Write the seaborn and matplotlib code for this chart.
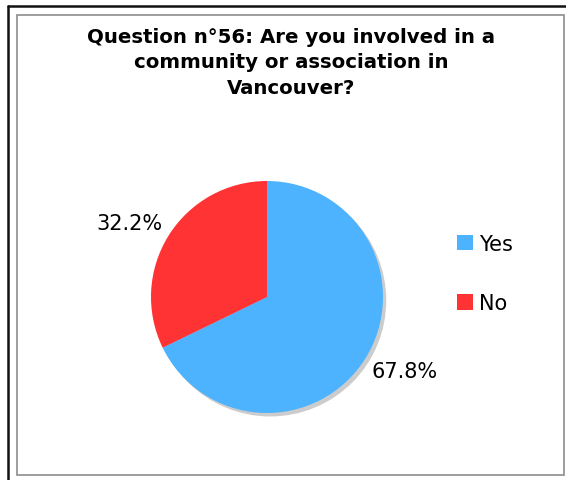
import matplotlib
matplotlib.use("Agg")
import numpy as np
import matplotlib.pyplot as plt
from matplotlib.patches import Rectangle, Patch, Circle
from matplotlib.lines import Line2D
import seaborn as sns

# Survey answers
categories = ["Yes", "No"]
shares = [67.8, 32.2]
colors = ["#4DB3FF", "#FF3333"]
title = "Question n°56: Are you involved in a\ncommunity or association in\nVancouver?"

sns.set_theme(style="white")
plt.rcParams["font.family"] = ["DejaVu Sans"]
plt.rcParams["text.color"] = "black"

W, H = 566, 481
fig = plt.figure(figsize=(W / 100, H / 100), dpi=100)
fig.patch.set_facecolor("white")


def px(x, y):
    return x / W, 1 - y / H


# Frame: dark outer edge (top and left) and a grey inner box
fig.add_artist(Line2D([px(8, 0)[0], 1.0], [px(0, 6.5)[1]] * 2, color="#111111", lw=1.8, transform=fig.transFigure))
fig.add_artist(Line2D([px(8, 0)[0]] * 2, [px(0, 6.5)[1], 0.0], color="#111111", lw=1.8, transform=fig.transFigure))
x0, y0 = px(16.5, 475.5)
x1, y1 = px(564, 15.5)
fig.add_artist(Rectangle((x0, y0), x1 - x0, y1 - y0, fill=False, ec="#8c8c8c", lw=1.2, transform=fig.transFigure))

fig.text(291 / W, 1 - 28 / H, title, ha="center", va="top", fontsize=14.2,
         fontweight="bold", linespacing=1.42, color="black")

# Pie area: centre at (267, 298) px, radius 116 px
cx, cy, r = 267, 298, 116
half = 150
ax = fig.add_axes([(cx - half) / W, (H - cy - half) / H, 2 * half / W, 2 * half / H])
lim = half / r
ax.set_aspect("equal")
ax.axis("off")

# soft grey drop shadow behind the pie
ax.add_patch(Circle((0.028, -0.03), 1.0, facecolor="#cccccc", edgecolor="none", zorder=0))

wedges, texts, autotexts = ax.pie(
    shares, colors=colors, startangle=90, counterclock=False,
    autopct="%.1f%%", pctdistance=1.35,
    textprops={"fontsize": 15, "color": "black"},
    wedgeprops={"linewidth": 0, "zorder": 1})

# pull the percentage labels a little toward the horizontal
for w, t in zip(wedges, autotexts):
    mid = np.deg2rad((w.theta1 + w.theta2) / 2)
    ang = np.arctan2(np.sin(mid), np.cos(mid))
    side = 0.0 if np.cos(mid) >= 0 else np.pi
    rel = np.arctan2(np.sin(ang - side), np.cos(ang - side)) * 0.88
    new = side + rel
    t.set_position((1.35 * np.cos(new), 1.35 * np.sin(new)))

ax.set_xlim(-lim, lim)
ax.set_ylim(-lim, lim)

handles = [Patch(facecolor=c, edgecolor="none") for c in colors]
leg = fig.legend(handles, categories, loc="upper left",
                 bbox_to_anchor=(442 / W, 1 - 220 / H), frameon=False,
                 fontsize=15, handlelength=0.78, handleheight=0.78,
                 handletextpad=0.28, labelspacing=1.9, borderpad=0.2)
for t in leg.get_texts():
    t.set_color("black")

fig.savefig("out.png", dpi=100)
